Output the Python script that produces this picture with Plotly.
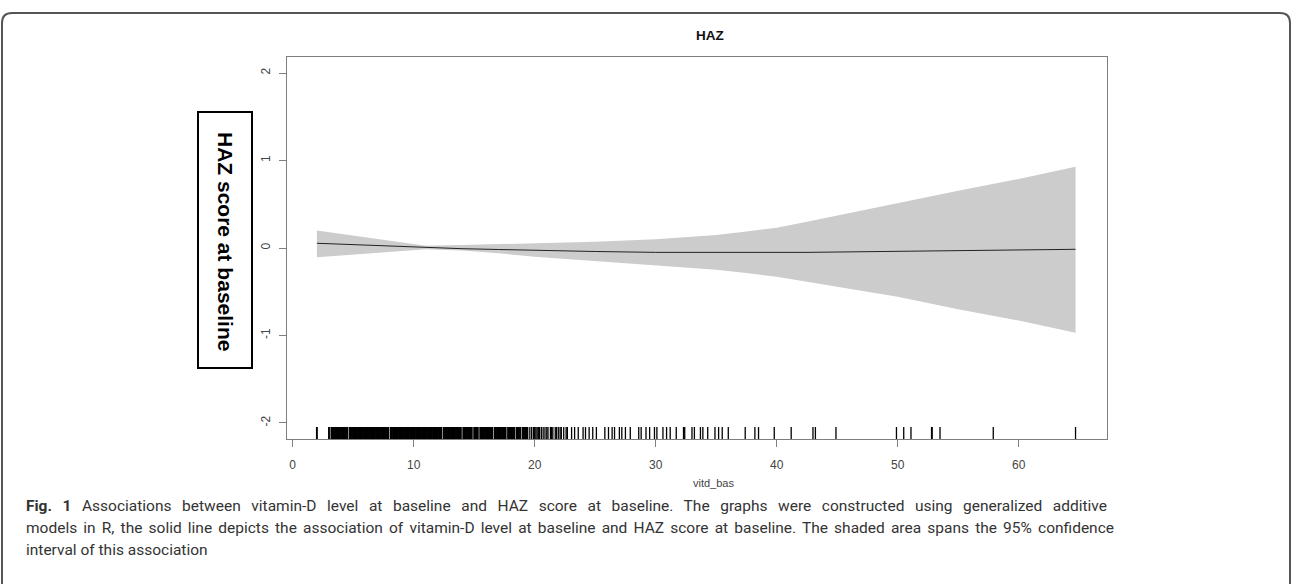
import plotly.graph_objects as go

# ---- data ----
grid_vitd = [2.0, 5.0, 8.0, 11.0, 14.0, 17.0, 20.0, 25.0, 30.0, 35.0, 37.5, 40.0, 42.5, 45.0, 50.0, 55.0, 60.0, 64.7]
fit_haz = [0.054, 0.037, 0.020, 0.004, -0.008, -0.017, -0.027, -0.040, -0.050, -0.053, -0.054, -0.055, -0.050, -0.046, -0.040, -0.030, -0.020, -0.015]
upper_haz = [0.200, 0.143, 0.083, 0.026, 0.034, 0.045, 0.054, 0.072, 0.100, 0.150, 0.188, 0.232, 0.300, 0.372, 0.510, 0.655, 0.790, 0.930]
lower_haz = [-0.106, -0.076, -0.046, -0.015, -0.030, -0.060, -0.100, -0.149, -0.200, -0.250, -0.287, -0.330, -0.385, -0.440, -0.556, -0.700, -0.830, -0.970]

rug_vitd = [
    2.0, 3.0, 3.2,
    3.3, 3.4, 3.5, 3.6, 3.7, 3.8, 3.9, 4.0, 4.1, 4.2, 4.3, 4.4, 4.5,
    4.7, 4.8, 4.9, 5.0, 5.1, 5.2, 5.3, 5.4, 5.5, 5.6, 5.7, 5.8, 5.9, 6.0, 6.1, 6.2,
    6.3, 6.4, 6.5, 6.6, 6.7, 6.8, 6.9, 7.0, 7.1, 7.2, 7.3, 7.4, 7.5, 7.6, 7.7, 7.8, 7.9,
    8.1, 8.2, 8.3, 8.4, 8.5, 8.6, 8.7, 8.8, 8.9, 9.0, 9.1, 9.2, 9.3, 9.4, 9.5, 9.6,
    9.7, 9.8, 9.9, 10.0, 10.1, 10.2, 10.3, 10.4, 10.5, 10.6, 10.7, 10.8, 10.9, 11.0,
    11.1, 11.2, 11.3, 11.4, 11.5, 11.6, 11.7, 11.8, 11.9, 12.0, 12.1, 12.2, 12.3,
    12.5, 12.6, 12.7, 12.8, 12.9, 13.0, 13.1, 13.2, 13.3, 13.4, 13.5, 13.6, 13.7, 13.8, 13.9,
    14.1, 14.2, 14.3, 14.4, 14.5, 14.6, 14.7, 14.8,
    15.0, 15.1, 15.2, 15.3,
    15.5, 15.6, 15.7, 15.8, 15.9, 16.0, 16.1, 16.2, 16.3, 16.4, 16.5,
    16.7, 16.8, 16.9, 17.0, 17.1, 17.2, 17.3, 17.4, 17.5, 17.6,
    17.8, 17.9, 18.0, 18.1, 18.2, 18.3,
    18.5, 18.6, 18.7, 18.8,
    19.0, 19.1, 19.2, 19.3, 19.4,
    19.6, 19.75, 19.9, 20.0, 20.1, 20.2, 20.3, 20.4, 20.55, 20.7, 20.85, 21.0, 21.1,
    21.3, 21.4, 21.5, 21.7, 21.8, 21.95, 22.1, 22.2, 22.4, 22.6, 22.7,
    23.05, 23.3, 23.6, 24.0, 24.2, 24.5, 24.8, 25.1, 25.8, 26.1, 26.4, 26.6, 27.0, 27.2,
    27.5, 27.9, 28.6, 28.8, 29.2, 29.5, 29.9, 30.1, 30.6, 30.9, 31.2, 31.7, 32.3, 32.4,
    33.0, 33.2, 33.7, 33.9, 34.3, 34.9, 35.2, 35.5, 36.0, 37.4, 38.2, 38.5, 39.8, 41.2,
    43.0, 43.2, 44.9, 49.9, 50.5, 51.1, 52.8, 52.85, 53.5, 57.9, 64.7,
]

x_ticks = [0, 10, 20, 30, 40, 50, 60]
y_ticks = [-2, -1, 0, 1, 2]

title_text = "HAZ"
x_label = "vitd_bas"
y_label = "HAZ score at baseline"
caption_lines = [
    "<b>Fig. 1</b> Associations between vitamin-D level at baseline and HAZ score at baseline. The graphs were constructed using generalized additive",
    "models in R, the solid line depicts the association of vitamin-D level at baseline and HAZ score at baseline. The shaded area spans the 95% confidence",
    "interval of this association",
]

# ---- layout geometry ----
W, H = 1292, 584
L, R, T, B = 287, 1107, 57, 439
pw, ph = R - L, B - T
Y_RANGE = [-2.183, 2.183]
X_RANGE = [-0.47, 67.3]


def px_x(px):
    return (px - L) / pw


def px_y(py):
    return (B - py) / ph


fig = go.Figure()

# confidence band
fig.add_trace(go.Scatter(x=grid_vitd, y=upper_haz, mode="lines",
                         line=dict(width=0, color="#cccccc"), showlegend=False, hoverinfo="skip"))
fig.add_trace(go.Scatter(x=grid_vitd, y=lower_haz, mode="lines", fill="tonexty",
                         fillcolor="#cccccc", line=dict(width=0, color="#cccccc"),
                         showlegend=False, hoverinfo="skip"))
# fitted smooth
fig.add_trace(go.Scatter(x=grid_vitd, y=fit_haz, mode="lines",
                         line=dict(width=1, color="#222222"), showlegend=False))

# rug (dense part drawn slightly heavier so it renders solid like the original)
rug_len = 12 / ph * (Y_RANGE[1] - Y_RANGE[0])
for sel, width in ((lambda v: v < 19.5, 1.9), (lambda v: v >= 19.5, 1.3)):
    rx, ry = [], []
    for v in rug_vitd:
        if sel(v):
            rx += [v, v, None]
            ry += [Y_RANGE[0], Y_RANGE[0] + rug_len, None]
    fig.add_trace(go.Scatter(x=rx, y=ry, mode="lines", line=dict(width=width, color="#000000"),
                             showlegend=False, hoverinfo="skip"))

axis_common = dict(showgrid=False, zeroline=False, showline=True, mirror=True,
                   linecolor="#7f7f7f", linewidth=1, ticks="outside", ticklen=7,
                   tickcolor="#7f7f7f", tickwidth=1,
                   tickfont=dict(family="Liberation Sans, Arial", size=12, color="#444444"))

fig.update_xaxes(range=X_RANGE, tickvals=x_ticks, ticktext=[str(t) for t in x_ticks],
                 ticklabelstandoff=8, **axis_common)
fig.update_yaxes(range=Y_RANGE, tickvals=y_ticks, ticktext=[str(t) for t in y_ticks],
                 tickangle=-90, ticklabelstandoff=4, **axis_common)

annotations = [
    dict(text="<b>" + title_text + "</b>", x=px_x(710), y=px_y(35), xref="paper", yref="paper",
         showarrow=False, xanchor="center", yanchor="middle",
         font=dict(family="Liberation Sans, Arial", size=13.5, color="#111111")),
    dict(text=x_label, x=px_x(713), y=px_y(483), xref="paper", yref="paper",
         showarrow=False, xanchor="center", yanchor="middle",
         font=dict(family="Liberation Sans, Arial", size=11, color="#444444")),
    dict(text="<b>" + y_label + "</b>", x=px_x(225), y=px_y(241), xref="paper", yref="paper",
         showarrow=False, textangle=90, xanchor="center", yanchor="middle",
         font=dict(family="Liberation Sans, Arial", size=21, color="#000000")),
]
for i, line in enumerate(caption_lines):
    annotations.append(dict(text=line, x=px_x(24), y=px_y(506 + 22 * i), xref="paper", yref="paper",
                            showarrow=False, xanchor="left", yanchor="middle", align="left",
                            font=dict(family="Roboto, Lato", size=15.5, color="#333333")))

# boxed y label + outer rounded frame
rx0, rx1, ry0, ry1 = 2, 1290, 13, 620
rad = 10
ox = lambda v: px_x(v)
oy = lambda v: px_y(v)
frame_path = (
    f"M {ox(rx0)},{oy(ry1)} L {ox(rx0)},{oy(ry0 + rad)} Q {ox(rx0)},{oy(ry0)} {ox(rx0 + rad)},{oy(ry0)} "
    f"L {ox(rx1 - rad)},{oy(ry0)} Q {ox(rx1)},{oy(ry0)} {ox(rx1)},{oy(ry0 + rad)} L {ox(rx1)},{oy(ry1)}"
)
shapes = [
    dict(type="rect", xref="paper", yref="paper", x0=px_x(198), x1=px_x(252),
         y0=px_y(368), y1=px_y(112), line=dict(color="#000000", width=2)),
    dict(type="path", xref="paper", yref="paper", path=frame_path,
         line=dict(color="#555555", width=2)),
]

fig.update_layout(
    width=W, height=H,
    margin=dict(l=L, r=W - R, t=T, b=H - B, pad=0),
    paper_bgcolor="white", plot_bgcolor="white",
    annotations=annotations, shapes=shapes, showlegend=False,
)

# justify the first two caption lines (as in the printed caption)
post = """
document.body.style.margin='0';document.body.style.overflow='hidden';
var targets = [['Associations between', 1081], ['models in R,', 1088]];
document.querySelectorAll('text.annotation-text').forEach(function(t){
  var s = t.textContent;
  targets.forEach(function(p){
    if (s.indexOf(p[0]) >= 0){
      var n = (s.match(/ /g) || []).length;
      var w = t.getComputedTextLength();
      if (n > 0 && p[1] > w) { t.style.wordSpacing = ((p[1] - w) / n) + 'px'; }
    }
  });
});
"""

fig.write_html("out.html", post_script=post, config={"displayModeBar": False})
